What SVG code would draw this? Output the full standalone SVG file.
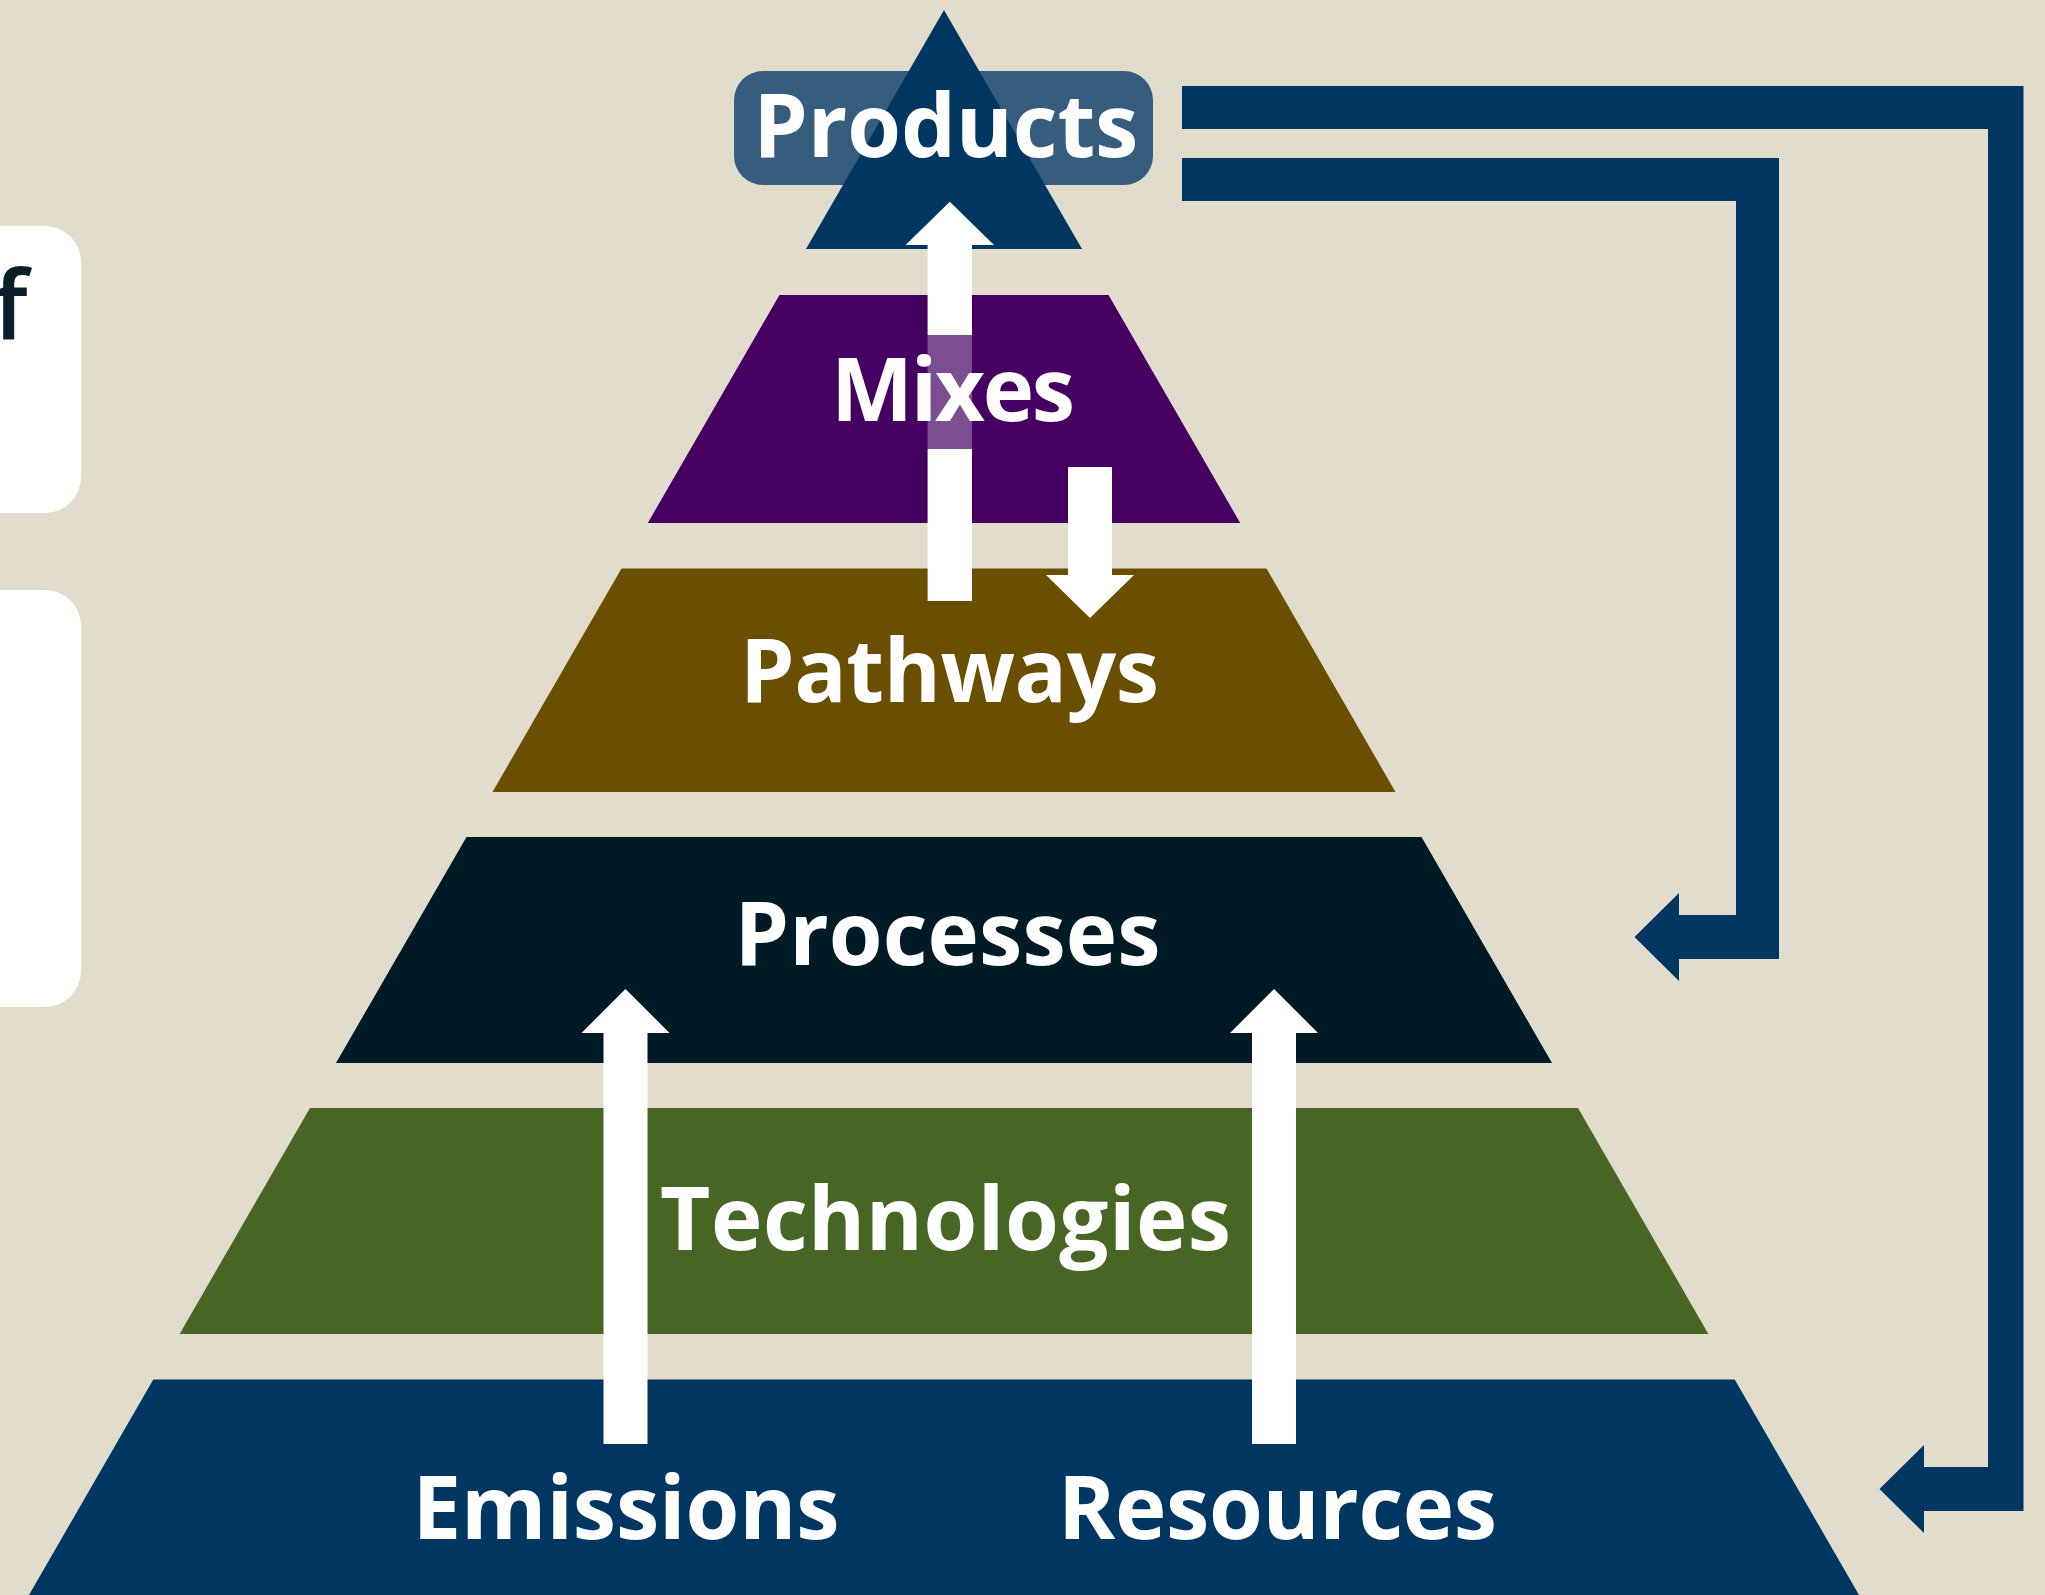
<svg xmlns="http://www.w3.org/2000/svg" width="2045" height="1595" viewBox="0 0 2045 1595">
  <style>
    .lbl { font-family: "Open Sans", "Noto Sans", "DejaVu Sans", sans-serif; font-weight: 700; font-size: 87px; fill: #ffffff; text-anchor: middle; }
    .side { fill: #ffffff; }
    .navy { fill: #003762; }
    .white { fill: #ffffff; }
  </style>
  <rect x="0" y="0" width="2045" height="1595" fill="#E1DCCB"/>

  <g id="side-box-1">
    <rect class="side" x="-60" y="226" width="141" height="287" rx="36" ry="36"/>
    <text x="-7" y="340" font-family="'Open Sans', 'Noto Sans', sans-serif" font-weight="600" font-size="96" fill="#0B1F2B">f</text>
  </g>
  <g id="side-box-2">
    <rect class="side" x="-60" y="590" width="141" height="417" rx="36" ry="36"/>
  </g>

  <g id="node-emissions-resources">
    <polygon points="153.3,1379.5 1734.7,1379.5 1859,1595 29,1595" fill="#003762"/>
  </g>
  <g id="node-technologies">
    <polygon points="310,1108 1578,1108 1708.4,1334 179.6,1334" fill="#486623"/>
  </g>
  <g id="node-processes">
    <polygon points="466.5,837 1421.5,837 1552,1063 336,1063" fill="#001B26"/>
  </g>
  <g id="node-pathways">
    <polygon points="621.5,568.5 1266.5,568.5 1395.5,792 492.5,792" fill="#6A4F00"/>
  </g>
  <g id="node-mixes">
    <polygon points="779.5,295 1108.5,295 1240.2,523 647.8,523" fill="#450062"/>
  </g>
  <g id="node-products">
    <rect x="734" y="71" width="419" height="114" rx="29" ry="29" fill="#365D7D"/>
    <polygon points="944,10 1082,249 806,249" fill="#003762"/>
  </g>

  <g id="connectors">
    <polygon class="white" points="949.8,201.7 994,245 972,245 972,335 927.6,335 927.6,245 905.6,245"/>
    <rect x="927.6" y="335" width="44.4" height="114" fill="#ffffff" fill-opacity="0.3"/>
    <rect class="white" x="927.6" y="449" width="44.4" height="152"/>
    <polygon class="white" points="1068,467 1112,467 1112,575 1134,575 1090,618 1046,575 1068,575"/>
    <polygon class="white" points="603.5,1444 603.5,1033 581.5,1033 625.5,989 669.5,1033 647.5,1033 647.5,1444"/>
    <polygon class="white" points="1252,1444 1252,1033 1230,1033 1274,989 1318,1033 1296,1033 1296,1444"/>
    <polygon class="navy" points="1182,158 1779,158 1779,959 1679,959 1679,981 1634.5,937 1679,893 1679,915 1736,915 1736,201 1182,201"/>
    <polygon class="navy" points="1182,86 2023.5,86 2023.5,1511 1924,1511 1924,1533 1879.5,1489 1924,1445 1924,1467 1988,1467 1988,129 1182,129"/>
  </g>

  <g id="labels">
    <text class="lbl" x="945.8" y="156.7" textLength="385" lengthAdjust="spacing">Products</text>
    <text class="lbl" x="953" y="421.3" textLength="244" lengthAdjust="spacing">Mixes</text>
    <text class="lbl" x="949.5" y="701.6" textLength="419" lengthAdjust="spacing">Pathways</text>
    <text class="lbl" x="947.5" y="965" textLength="426" lengthAdjust="spacing">Processes</text>
    <text class="lbl" x="945.6" y="1249.5" textLength="571" lengthAdjust="spacing">Technologies</text>
    <text class="lbl" x="626" y="1539" textLength="427" lengthAdjust="spacing">Emissions</text>
    <text class="lbl" x="1277.5" y="1539" textLength="439" lengthAdjust="spacing">Resources</text>
  </g>
</svg>
